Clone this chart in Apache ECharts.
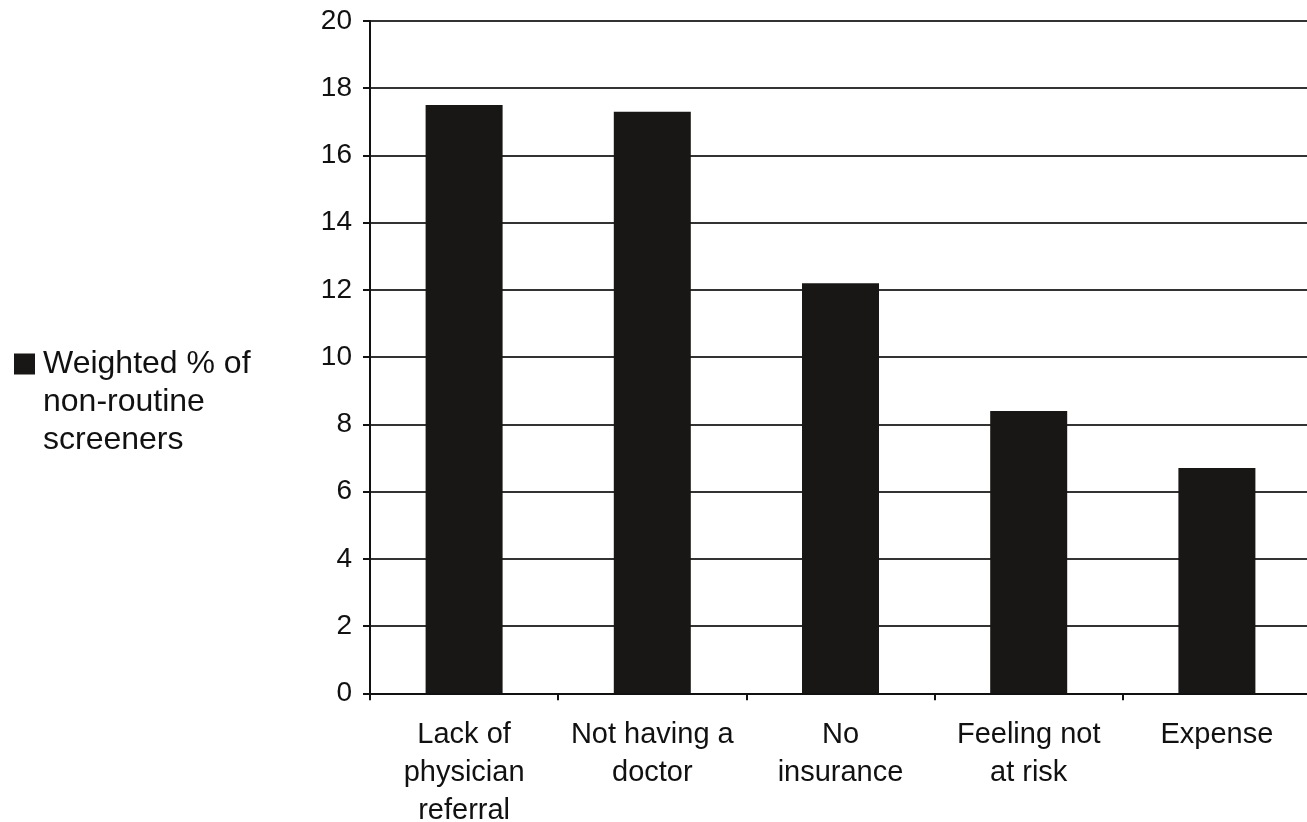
<!DOCTYPE html>
<html>
<head>
<meta charset="utf-8">
<script src="https://cdn.jsdelivr.net/npm/echarts@6/dist/echarts.min.js"></script>
<style>
  html, body { margin: 0; padding: 0; background: #fff; overflow: hidden; }
  #chart { width: 1307px; height: 822px; }
</style>
</head>
<body>
<div id="chart"></div>
<script>
// Reasons given by non-routine screeners
const categories = [
  'Lack of\nphysician\nreferral',
  'Not having a\ndoctor',
  'No\ninsurance',
  'Feeling not\nat risk',
  'Expense'
];
const seriesName = 'Weighted % of\nnon-routine\nscreeners';
const weightedPct = [17.5, 17.3, 12.2, 8.4, 6.7];
const yTicks = { min: 0, max: 20, interval: 2 };

const FONT = '"Liberation Sans", Arial, Helvetica, sans-serif';
const INK = '#111111';
const LINE_H = 38;

// Legend swatch: a 21px square sitting beside the first line of the
// three-line legend text (the path's bounding box spans the whole text block).
const legendIcon = 'path://M0,0h0.01v0.01h-0.01Z' +
  'M23.99,0h0.01v0.01h-0.01Z' +
  'M0,8.5h21v21h-21Z' +
  'M0,113.99h0.01v0.01h-0.01Z';

const chart = echarts.init(document.getElementById('chart'), null, { renderer: 'canvas' });
chart.setOption({
  backgroundColor: '#ffffff',
  animation: false,
  grid: {
    left: 370, top: 21, width: 941, height: 672.3,
    containLabel: false,
    outerBoundsMode: 'none'
  },
  legend: {
    left: 14,
    top: 345,
    padding: 0,
    orient: 'vertical',
    itemWidth: 24,
    itemHeight: 114,
    itemGap: 0,
    icon: legendIcon,
    textStyle: {
      fontFamily: FONT,
      fontSize: 32,
      color: INK,
      lineHeight: LINE_H
    },
    data: [seriesName]
  },
  xAxis: {
    type: 'category',
    data: categories,
    axisLine: { lineStyle: { color: '#111', width: 2 } },
    axisTick: { show: true, length: 7, lineStyle: { color: '#111', width: 2 } },
    axisLabel: {
      fontFamily: FONT, fontSize: 29, color: INK,
      lineHeight: LINE_H, margin: 23, interval: 0
    }
  },
  yAxis: {
    type: 'value',
    min: yTicks.min,
    max: yTicks.max,
    interval: yTicks.interval,
    axisLine: { show: true, lineStyle: { color: '#111', width: 2 } },
    axisTick: { show: true, length: 7, lineStyle: { color: '#111', width: 2 } },
    axisLabel: { fontFamily: FONT, fontSize: 28, color: INK, margin: 18 },
    splitLine: { show: true, lineStyle: { color: '#333', width: 2 } }
  },
  series: [{
    name: seriesName,
    type: 'bar',
    data: weightedPct,
    barWidth: 77,
    itemStyle: { color: '#181716' }
  }]
});
</script>
</body>
</html>
